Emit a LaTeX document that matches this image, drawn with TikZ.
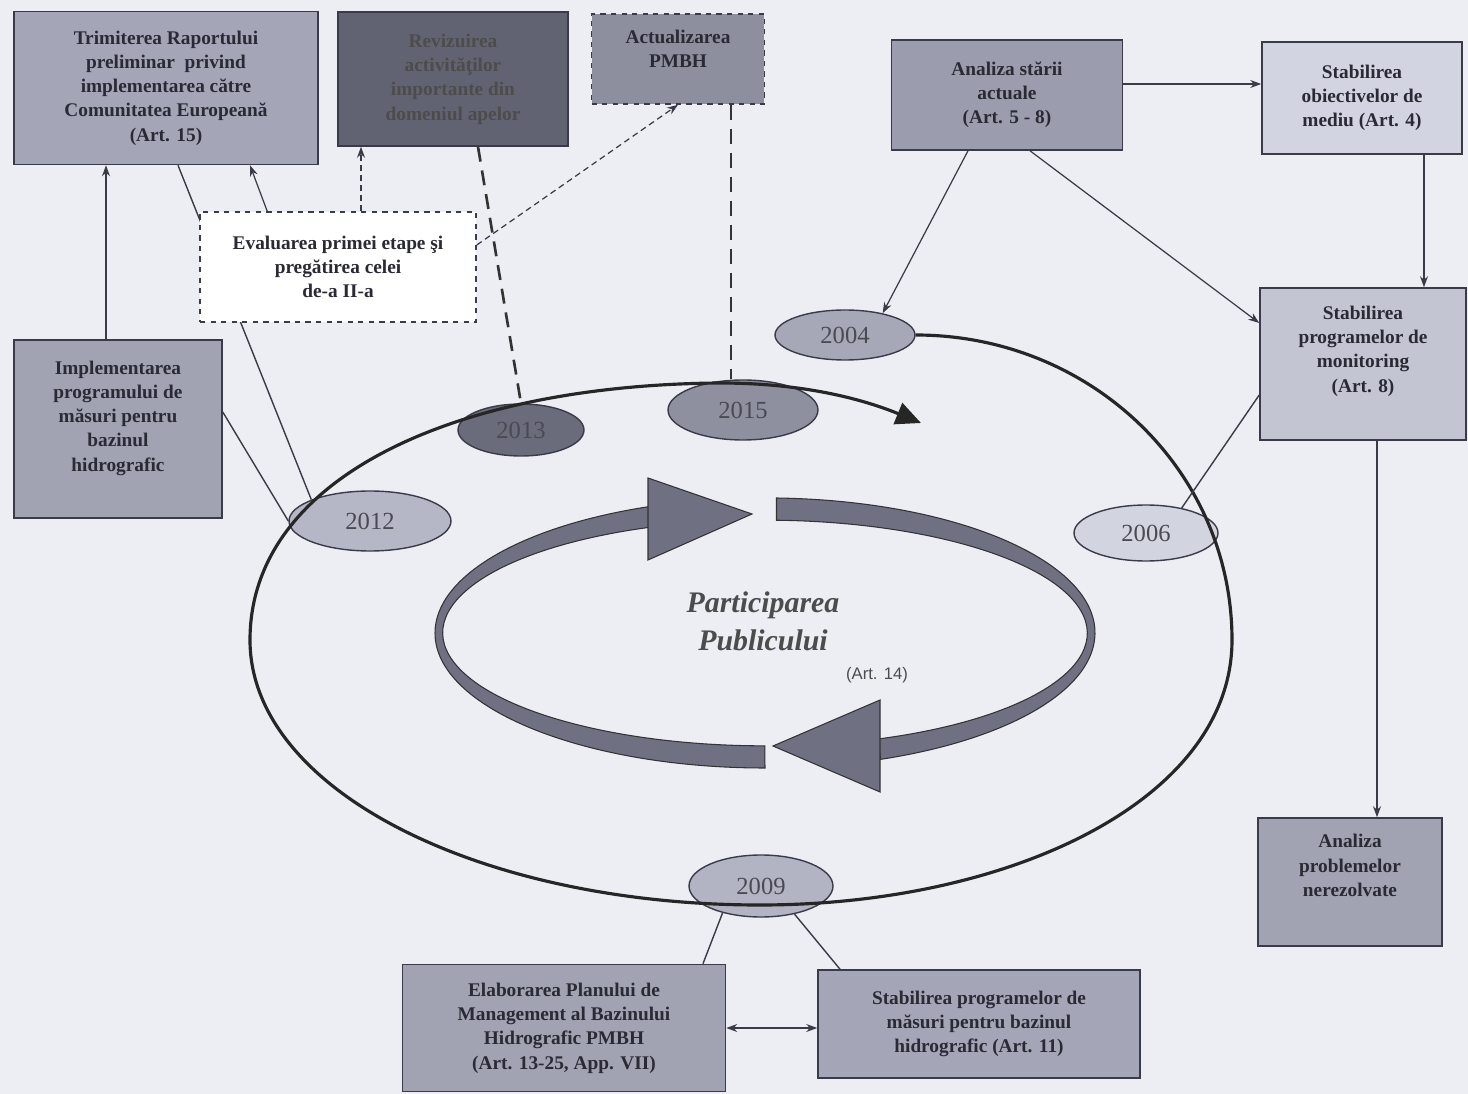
\documentclass[tikz,border=0pt]{standalone}
\usepackage{fontspec}
\setmainfont{Liberation Serif}
\setsansfont{Liberation Sans}
\usepackage{xcolor}
\usepackage{tikz}
\usetikzlibrary{shapes,arrows,arrows.meta,calc}

\definecolor{bgcol}{HTML}{ECEEF4}
\definecolor{edgecol}{HTML}{3A3B48}
\definecolor{txtcol}{HTML}{2A2A35}
\definecolor{boxA}{HTML}{A4A6B8}
\definecolor{boxDark}{HTML}{626372}
\definecolor{boxB}{HTML}{8D8F9E}
\definecolor{boxC}{HTML}{9B9DAE}
\definecolor{boxLight}{HTML}{D2D4E1}
\definecolor{boxMid}{HTML}{C3C5D3}
\definecolor{boxD}{HTML}{A1A3B3}
\definecolor{ribbon}{HTML}{6F7081}

\newcommand{\boxfont}{\fontsize{11}{13.8}\selectfont\bfseries}
\newcommand{\yearfont}{\fontsize{14}{16}\selectfont}

\begin{document}
\begin{tikzpicture}[x=0.02cm, y=-0.02cm,
    box/.style={draw=edgecol, line width=0.9pt, align=center, font=\boxfont, text=txtcol, inner sep=2pt},
    year/.style={ellipse, draw=edgecol, line width=0.8pt, inner sep=0pt, font=\yearfont, text=txtcol!85},
    arrow/.style={->, >={Stealth[length=0.22cm, width=0.16cm]}, line width=0.7pt, draw=edgecol},
    link/.style={line width=0.8pt, draw=edgecol},
    dashlink/.style={arrow, dash pattern=on 0.12cm off 0.08cm},
    longdash/.style={line width=1.5pt, draw=black!80, dash pattern=on 0.3cm off 0.18cm},
    loopline/.style={line width=1.8pt, draw=black!85, -{Triangle[length=0.5cm, width=0.45cm]}}
]
    % background
    \useasboundingbox (0,0) rectangle (1468,1094);
    \fill[bgcol] (0,0) rectangle (1468,1094);

    % inner ribbon (public participation)
    \fill[ribbon, draw=black!80, line width=0.6pt] (765,768) arc[start angle=90, end angle=249.5, x radius=330, y radius=135]
        -- (652,527) arc[start angle=249.5, end angle=90, x radius=322, y radius=113] -- cycle;
    \fill[ribbon, draw=black!80, line width=0.6pt] (648,478) -- (752,514) -- (648,560) -- cycle;
    \fill[ribbon, draw=black!80, line width=0.6pt] (776.5,498) arc[start angle=272, end angle=429.5, x radius=330, y radius=135]
        -- (878,739) arc[start angle=429.5, end angle=272, x radius=322, y radius=113] -- cycle;
    \fill[ribbon, draw=black!80, line width=0.6pt] (880,700) -- (773,746) -- (880,792) -- cycle;

    \node[font=\fontsize{17}{21.5}\selectfont\bfseries\itshape, text=black!70, align=center] (part) at (763,621) {Participarea\\Publicului};
    \node[font=\sffamily\fontsize{9.5}{11}\selectfont, text=black!70] (art14) at (877,675) {(Art. 14)};

    % years on the cycle
    \node[year, fill={rgb,255:red,166;green,168;blue,184}, minimum width=2.8cm, minimum height=1.0cm] (y2004) at (845,335) {2004};
    \node[year, fill={rgb,255:red,210;green,212;blue,224}, minimum width=2.88cm, minimum height=1.12cm] (y2006) at (1146,533) {2006};
    \node[year, fill={rgb,255:red,178;green,180;blue,195}, minimum width=2.88cm, minimum height=1.24cm] (y2009) at (761,886) {2009};
    \node[year, fill={rgb,255:red,181;green,183;blue,198}, minimum width=3.24cm, minimum height=1.2cm] (y2012) at (370,521) {2012};
    \node[year, fill={rgb,255:red,107;green,108;blue,123}, minimum width=2.52cm, minimum height=1.04cm] (y2013) at (521,430) {2013};
    \node[year, fill={rgb,255:red,142;green,144;blue,160}, minimum width=3.0cm, minimum height=1.2cm] (y2015) at (743,410) {2015};

    % the cycle
    \coordinate (loopend) at (921,423);
    \draw[loopline] (y2004.east) .. controls (1090,335) and (1232,470) .. (1232,640)
        .. controls (1232,800) and (1010,905) .. (760,905)
        .. controls (480,905) and (250,790) .. (250,640)
        .. controls (250,480) and (450,385) .. (720,383)
        .. controls (800,383) and (860,398) .. (loopend);

    % boxes
    \node[box, fill=boxA, minimum width=6.08cm, minimum height=3.06cm] (trim) at (166,88) {Trimiterea Raportului\\preliminar\ \ privind\\implementarea către\\Comunitatea Europeană\\(Art. 15)};
    \node[box, fill=boxDark, text=black!70, minimum width=4.6cm, minimum height=2.68cm] (reviz) at (453,79) {Revizuirea\\activităţilor\\importante din\\domeniul apelor};
    \node[box, dashed, fill=boxB, minimum width=3.46cm, minimum height=1.8cm, text depth=0.4cm] (actual) at (678,59) {Actualizarea\\PMBH};
    \node[box, fill=boxC, minimum width=4.62cm, minimum height=2.2cm] (analiza) at (1007,95) {Analiza stării\\actuale\\(Art. 5 - 8)};
    \node[box, fill=boxLight, minimum width=4.0cm, minimum height=2.24cm] (obiect) at (1362,98) {Stabilirea\\obiectivelor de\\mediu (Art. 4)};
    \node[box, fill=boxMid, minimum width=4.12cm, minimum height=3.04cm, text depth=0.6cm] (monit) at (1363,364) {Stabilirea\\programelor de\\monitoring\\(Art. 8)};
    \node[box, fill=boxD, minimum width=3.68cm, minimum height=2.56cm, text depth=0.66cm] (problem) at (1350,882) {Analiza\\problemelor\\nerezolvate};
    \node[box, fill=boxD, minimum width=6.46cm, minimum height=2.54cm] (elab) at (564,1028) {Elaborarea Planului de\\Management al Bazinului\\Hidrografic PMBH\\(Art. 13-25, App. VII)};
    \node[box, fill=boxA, minimum width=6.44cm, minimum height=2.16cm] (meas) at (979,1024) {Stabilirea programelor de\\măsuri pentru bazinul\\hidrografic (Art. 11)};
    \node[box, fill=boxD, minimum width=4.16cm, minimum height=3.56cm, text depth=0.52cm] (impl) at (118,429) {Implementarea\\programului de\\măsuri pentru\\bazinul\\hidrografic};

    % line behind the evaluation box
    \draw[link] ([xshift=0.24cm]trim.south) -- (y2012.160);
    \node[box, dashed, fill=white, minimum width=5.52cm, minimum height=2.2cm] (eval) at (338,267) {Evaluarea primei etape şi\\pregătirea celei\\de-a II-a};

    % left side connectors
    \draw[arrow] ([xshift=-0.24cm]impl.north) -- ([xshift=-0.24cm]impl.north |- trim.south);
    \draw[link] ([yshift=0.34cm]impl.east) -- (y2012.west);
    \draw[arrow] ([xshift=1.36cm]eval.north west) -- ([xshift=1.68cm]trim.south);
    \draw[dashlink] ([xshift=0.46cm]eval.north) -- ([xshift=0.46cm]eval.north |- reviz.south);
    \draw[dashlink] ([yshift=0.44cm]eval.east) -- (actual.south);
    \draw[longdash] ([xshift=0.5cm]reviz.south) -- (y2013.north);
    \draw[longdash] ([xshift=1.06cm]actual.south) -- ([xshift=1.06cm]actual.south |- y2015.north);

    % right side connectors
    \draw[arrow] ([xshift=-0.78cm]analiza.south) -- (y2004.30);
    \draw[arrow] ([xshift=0.46cm]analiza.south) -- ([yshift=0.82cm]monit.west);
    \draw[arrow] ([yshift=0.22cm]analiza.east) -- ([yshift=0.22cm]analiza.east -| obiect.west);
    \draw[arrow] ([xshift=1.24cm]obiect.south) -- ([xshift=1.24cm]obiect.south |- monit.north);
    \draw[arrow] ([xshift=0.28cm]monit.south) -- ([xshift=0.28cm]monit.south |- problem.north);
    \draw[link] ([yshift=-0.62cm]monit.west) -- (y2006.35);

    % bottom connectors
    \draw[link] (y2009.215) -- ([xshift=2.78cm]elab.north);
    \draw[link] (y2009.320) -- ([xshift=-2.78cm]meas.north);
    \draw[arrow, <->] (elab.east) -- (elab.east -| meas.west);
\end{tikzpicture}
\end{document}
